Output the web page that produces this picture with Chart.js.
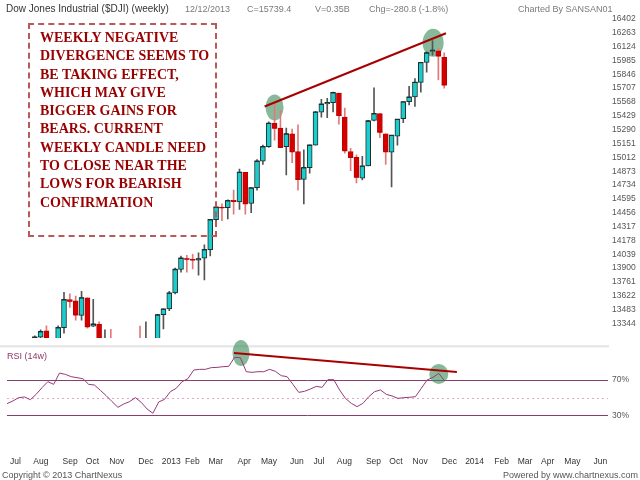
<!DOCTYPE html>
<html>
<head>
<meta charset="utf-8">
<script src="https://cdn.jsdelivr.net/npm/chart.js@4/dist/chart.umd.min.js"></script>
<style>
body{margin:0;width:640px;height:480px;background:#fff;position:relative;overflow:hidden;font-family:"Liberation Sans",Arial,sans-serif}
canvas{position:absolute;left:0}
#price{top:0;z-index:2}
#rsi{top:335px;z-index:1}
.t{position:absolute;white-space:nowrap;z-index:3;line-height:12px}
.hd{top:3px;font-size:9px;color:#7a7a7a}
#title{left:6px;top:3px;font-size:10px;color:#333}
#note{position:absolute;left:28px;top:23px;width:185px;height:210px;border:2px dashed #b85a5a;z-index:3}
#noteText{position:absolute;left:40px;top:29px;font:bold 14px "Liberation Serif","Times New Roman",serif;line-height:18.3px;color:#990000;z-index:3;white-space:nowrap}
#rsiLabel{left:7px;top:350px;font-size:9px;color:#8b3a66}
.ft{top:469px;font-size:9px;color:#555}
</style>
</head>
<body>
<div class="t" id="title">Dow Jones Industrial ($DJI) (weekly)</div>
<div class="t hd" style="left:185px">12/12/2013</div>
<div class="t hd" style="left:247px">C=15739.4</div>
<div class="t hd" style="left:315px">V=0.35B</div>
<div class="t hd" style="left:369px">Chg=-280.8 (-1.8%)</div>
<div class="t hd" style="left:518px">Charted By SANSAN01</div>
<div id="note"></div>
<div id="noteText">WEEKLY NEGATIVE<br>DIVERGENCE SEEMS TO<br>BE TAKING EFFECT,<br>WHICH MAY GIVE<br>BIGGER GAINS FOR<br>BEARS. CURRENT<br>WEEKLY CANDLE NEED<br>TO CLOSE NEAR THE<br>LOWS FOR BEARISH<br>CONFIRMATION</div>
<div class="t" id="rsiLabel">RSI (14w)</div>
<div class="t ft" style="left:2px">Copyright © 2013 ChartNexus</div>
<div class="t ft" style="right:2px">Powered by www.chartnexus.com</div>
<canvas id="price" width="640" height="347"></canvas>
<canvas id="rsi" width="640" height="145"></canvas>
<script>
// weekly bars, dated by the Friday that ends each week
const firstWeek = '2012-07-06';
const weekCount = 104;
const monthNames = ['Jan','Feb','Mar','Apr','May','Jun','Jul','Aug','Sep','Oct','Nov','Dec'];

const priceTicks = [13344, 13483, 13622, 13761, 13900, 14039, 14178, 14317, 14456, 14595, 14734, 14873,
  15012, 15151, 15290, 15429, 15568, 15707, 15846, 15985, 16124, 16263, 16402];
const rsiTicks = [30, 70];
const rsiLevels = [70, 50, 30];
const priceRange = [13199, 16500];
const rsiRange = [-9.3, 107.4];

const open = [12880, 12772, 12777, 12822, 13075, 13096, 13207, 13270, 13157, 13090,
  13302, 13583, 13570, 13425, 13602, 13318, 13337, 13075, 13093, 12815,
  12588, 13010, 13026, 13155, 13135, 13190, 12938, 13431, 13489, 13650,
  13886, 13996, 13990, 13980, 13999, 14086, 14386, 14512, 14506, 14580,
  14564, 14861, 14548, 14706, 14974, 15119, 15354, 15306, 15119, 15248,
  15070, 14790, 14909, 15135, 15464, 15548, 15561, 15658, 15416, 15070,
  15012, 14802, 14925, 15383, 15451, 15248, 15064, 15225, 15400, 15570,
  15619, 15764, 15964, 16074, 16080, 16016];
const high = [12944, 12800, 12943, 13075, 13160, 13220, 13279, 13320, 13190, 13320,
  13657, 13641, 13620, 13667, 13602, 13586, 13360, 13280, 13285, 12900,
  13010, 13080, 13170, 13318, 13360, 13195, 13436, 13492, 13667, 13900,
  14021, 14028, 14038, 14054, 14134, 14390, 14522, 14544, 14586, 14683,
  14893, 14861, 14706, 14990, 15135, 15367, 15554, 15480, 15306, 15296,
  15338, 15086, 15135, 15474, 15593, 15603, 15667, 15658, 15506, 15103,
  15038, 15022, 15383, 15709, 15451, 15248, 15232, 15393, 15570, 15725,
  15803, 15964, 16071, 16184, 16103, 16061];
const low = [12762, 12540, 12688, 12492, 12800, 13000, 13150, 13060, 13020, 13000,
  13247, 13505, 13376, 13376, 13296, 13312, 13080, 13060, 12800, 12470,
  12540, 12780, 12880, 13100, 12950, 12880, 12920, 13290, 13473, 13640,
  13860, 13860, 13892, 13828, 13780, 14022, 14377, 14377, 14393, 14441,
  14490, 14441, 14457, 14683, 14941, 15112, 15183, 15112, 14835, 14957,
  14683, 14544, 14854, 15135, 15416, 15409, 15467, 15345, 15054, 14877,
  14754, 14786, 14925, 15377, 15209, 14941, 14716, 15135, 15361, 15538,
  15522, 15667, 15867, 16038, 15790, 15706];
const close = [12772, 12777, 12822, 13075, 13096, 13207, 13263, 13157, 13090, 13302,
  13583, 13567, 13431, 13602, 13312, 13337, 13107, 13093, 12815, 12588,
  13010, 13026, 13155, 13135, 13190, 12938, 13431, 13489, 13650, 13886,
  13999, 13990, 13983, 13993, 14086, 14386, 14512, 14506, 14577, 14570,
  14861, 14548, 14706, 14974, 15119, 15354, 15306, 15112, 15248, 15070,
  14790, 14909, 15135, 15467, 15545, 15561, 15661, 15432, 15080, 15012,
  14812, 14925, 15377, 15451, 15264, 15070, 15232, 15393, 15570, 15616,
  15764, 15964, 16061, 16087, 16029, 15738];
const rsi = [43.2, 46.2, 50.0, 50.8, 47.7, 53.8, 61.3, 68.1, 65.1, 77.9,
  76.4, 73.8, 72.6, 71.5, 65.1, 64.3, 58.3, 52.3, 45.5, 39.1,
  42.8, 45.5, 50.0, 44.7, 37.2, 32.3, 45.1, 48.1, 56.8, 60.6,
  68.1, 71.5, 81.3, 82.1, 82.1, 84.0, 84.3, 85.1, 85.5, 95.7,
  95.3, 79.4, 78.7, 79.4, 79.4, 82.1, 79.8, 74.9, 73.8, 65.1,
  56.0, 57.2, 59.8, 62.8, 61.7, 70.4, 70.4, 58.7, 49.2, 43.6,
  39.8, 43.6, 51.1, 56.8, 58.7, 53.8, 51.9, 49.2, 50.0, 50.4,
  51.1, 60.6, 70.0, 73.0, 77.5, 68.9];

// hand drawn notes, in week index / value units
const priceCircles = [[46.0, 15512], [73.1, 16161]];
const priceTrend = [[44.3, 15522], [75.3, 16258]];
const rsiCircles = [[40.1, 100.6], [74.0, 76.8]];
const rsiTrend = [[38.9, 100.6], [77.1, 79.1]];

const weeks = [];
const t0 = new Date(firstWeek + 'T00:00:00Z').getTime();
for (let i = 0; i < weekCount; i++) {
  weeks.push(new Date(t0 + i * 7 * 864e5).toISOString().slice(0, 10));
}
function monthLabel(i) {
  const w = weeks[i];
  if (i > 0 && weeks[i - 1].slice(5, 7) === w.slice(5, 7)) return '';
  const m = +w.slice(5, 7);
  return m === 1 ? w.slice(0, 4) : monthNames[m - 1];
}

const up = close.map((c, i) => c >= open[i]);
const edge = up.map(u => u ? '#1e2e2e' : '#c00000');
const font = {family: 'Liberation Sans', size: 8.5};

function drawEllipses(chart, pts, sizes) {
  const {ctx, scales} = chart;
  ctx.save();
  ctx.fillStyle = 'rgba(62,140,92,0.62)';
  pts.forEach((p, k) => {
    ctx.beginPath();
    ctx.ellipse(scales.x.getPixelForValue(p[0]), scales.y.getPixelForValue(p[1]), sizes[k][0], sizes[k][1], 0, 0, Math.PI * 2);
    ctx.fill();
  });
  ctx.restore();
}
function drawTrend(chart, pts) {
  const {ctx, scales} = chart;
  ctx.save();
  ctx.strokeStyle = '#a80000';
  ctx.lineWidth = 2;
  ctx.beginPath();
  ctx.moveTo(scales.x.getPixelForValue(pts[0][0]), scales.y.getPixelForValue(pts[0][1]));
  ctx.lineTo(scales.x.getPixelForValue(pts[1][0]), scales.y.getPixelForValue(pts[1][1]));
  ctx.stroke();
  ctx.restore();
}

new Chart(document.getElementById('price'), {
  type: 'bar',
  data: {
    labels: weeks,
    datasets: [
      { data: low.map((l, i) => [l, high[i]]), backgroundColor: up.map(u => u ? '#555' : '#e07a7a'),
        barThickness: 1, grouped: false, order: 3, clip: 0 },
      { data: open.map((o, i) => [o, close[i]]), backgroundColor: up.map(u => u ? '#1ccccc' : '#d40000'),
        borderColor: edge, borderWidth: 1, borderSkipped: false,
        barThickness: 5, grouped: false, order: 2, clip: 0 },
      // close tick so that doji weeks still show a flat body
      { type: 'line', data: close, showLine: false, pointStyle: 'line', pointRadius: 2.5,
        pointBorderWidth: 1.2, pointBorderColor: edge, order: 1, clip: 0 }
    ]
  },
  options: {
    responsive: false, animation: false,
    layout: { padding: { left: 5.5, top: 4, bottom: 2, right: 0 } },
    plugins: { legend: { display: false }, tooltip: { enabled: false } },
    scales: {
      x: { type: 'category', offset: false, display: false },
      y: { position: 'right', min: priceRange[0], max: priceRange[1],
        grid: { display: false, drawTicks: false }, border: { display: false },
        ticks: { autoSkip: false, padding: 4, font: font, color: '#555', callback: v => String(v) },
        afterBuildTicks: a => { a.ticks = priceTicks.map(v => ({ value: v })); },
        afterFit: a => { a.width = 32; } }
    }
  },
  plugins: [{
    id: 'notes',
    beforeDatasetsDraw: c => drawEllipses(c, priceCircles, [[9, 13], [10.5, 14]]),
    afterDatasetsDraw: c => drawTrend(c, priceTrend)
  }]
});

new Chart(document.getElementById('rsi'), {
  type: 'line',
  data: { labels: weeks, datasets: [{ data: rsi, borderColor: '#963a78', borderWidth: 1, pointRadius: 0, tension: 0 }] },
  options: {
    responsive: false, animation: false,
    layout: { padding: { left: 5.5, top: 12, bottom: 0, right: 0 } },
    plugins: { legend: { display: false }, tooltip: { enabled: false } },
    scales: {
      x: { type: 'category', offset: false,
        grid: { display: false, drawTicks: false }, border: { display: false },
        ticks: { autoSkip: false, maxRotation: 0, minRotation: 0, align: 'start', labelOffset: 3, padding: 7,
          font: font, color: '#333', callback: (v, i) => monthLabel(i) },
        afterFit: a => { a.height = 30; } },
      y: { position: 'right', min: rsiRange[0], max: rsiRange[1],
        grid: { display: false, drawTicks: false }, border: { display: false },
        ticks: { padding: 4, font: font, color: '#555', callback: v => v + '%' },
        afterBuildTicks: a => { a.ticks = rsiTicks.map(v => ({ value: v })); },
        afterFit: a => { a.width = 32; } }
    }
  },
  plugins: [{
    id: 'rsiNotes',
    beforeDatasetsDraw(chart) {
      const {ctx, chartArea, scales} = chart;
      ctx.save();
      ctx.fillStyle = '#e8e8e8';
      ctx.fillRect(0, chartArea.top - 2, chartArea.right + 1, 2.5);
      rsiLevels.forEach(v => {
        const y = Math.round(scales.y.getPixelForValue(v)) + 0.5;
        ctx.beginPath();
        ctx.setLineDash(v === 50 ? [2, 3] : []);
        ctx.strokeStyle = v === 50 ? '#e2a8c8' : '#8a3d68';
        ctx.lineWidth = 1;
        ctx.moveTo(chartArea.left, y);
        ctx.lineTo(chartArea.right, y);
        ctx.stroke();
      });
      ctx.restore();
      drawEllipses(chart, rsiCircles, [[8.5, 13], [9.5, 10]]);
    },
    afterDatasetsDraw: c => drawTrend(c, rsiTrend)
  }]
});
</script>
</body>
</html>
